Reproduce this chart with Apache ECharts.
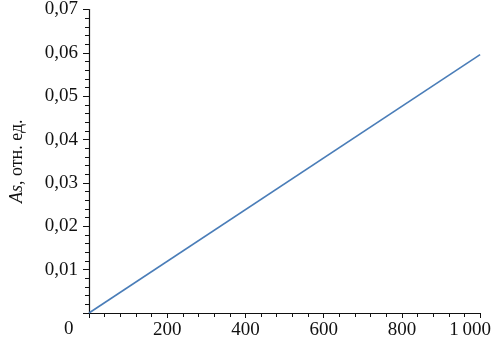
<!DOCTYPE html>
<html><head><meta charset="utf-8">
<script src="https://cdn.jsdelivr.net/npm/echarts@6/dist/echarts.min.js"></script>
<style>html,body{margin:0;padding:0;background:#fff}#c{width:494px;height:347px}</style>
</head><body><div id="c"></div>
<script>
const xValues = [0, 1000];
const yValues = [0, 0.0596];
const xTicks = [0, 200, 400, 600, 800, 1000];
const yTicks = [0, 0.01, 0.02, 0.03, 0.04, 0.05, 0.06, 0.07];
const yName = 'As, отн. ед.';

const font = '"Liberation Serif", "DejaVu Serif", serif';
const chart = echarts.init(document.getElementById('c'), null, {renderer: 'canvas'});
chart.setOption({
  animation: false,
  backgroundColor: '#fff',
  grid: {left: 87, right: 12, top: 8, bottom: 34, containLabel: false},
  xAxis: {
    type: 'value', min: 0, max: 1000, interval: 200,
    axisLine: {lineStyle: {color: '#111', width: 1.2}},
    axisTick: {show: true, length: 5, inside: false, lineStyle: {color: '#111'}},
    minorTick: {show: true, splitNumber: 5, length: 4, lineStyle: {color: '#111'}},
    splitLine: {show: false},
    axisLabel: {fontFamily: font, fontSize: 19, color: '#111', margin: 8,
      formatter: v => v === 0 ? '' : (v === 1000 ? '{r|1\u2009000}' : String(v)),
      rich: {r: {fontFamily: font, fontSize: 19, color: '#111', padding: [0, 20, 0, 0]}}}
  },
  yAxis: {
    type: 'value', min: 0, max: 0.07, interval: 0.01,
    name: '{i|As}, отн. ед.',
    nameLocation: 'middle', nameGap: 63, nameRotate: 90,
    nameTextStyle: {fontFamily: font, fontSize: 18, color: '#111',
      rich: {i: {fontFamily: font, fontSize: 18, fontStyle: 'italic', color: '#111'}}},
    axisLine: {show: true, lineStyle: {color: '#111', width: 1.2}},
    axisTick: {show: true, length: 6, lineStyle: {color: '#111'}},
    minorTick: {show: true, splitNumber: 5, length: 4, lineStyle: {color: '#111'}},
    splitLine: {show: false},
    axisLabel: {fontFamily: font, fontSize: 19, color: '#111', margin: 11,
      formatter: v => v === 0 ? '' : v.toFixed(2).replace('.', ',')}
  },
  series: [{
    type: 'line', showSymbol: false,
    data: xValues.map((x, i) => [x, yValues[i]]),
    lineStyle: {color: '#4a7db8', width: 1.6}
  }],
  graphic: [{
    type: 'text', left: 64, top: 320,
    style: {text: '0', font: '19px ' + font, fill: '#111'}
  }]
});
</script></body></html>
